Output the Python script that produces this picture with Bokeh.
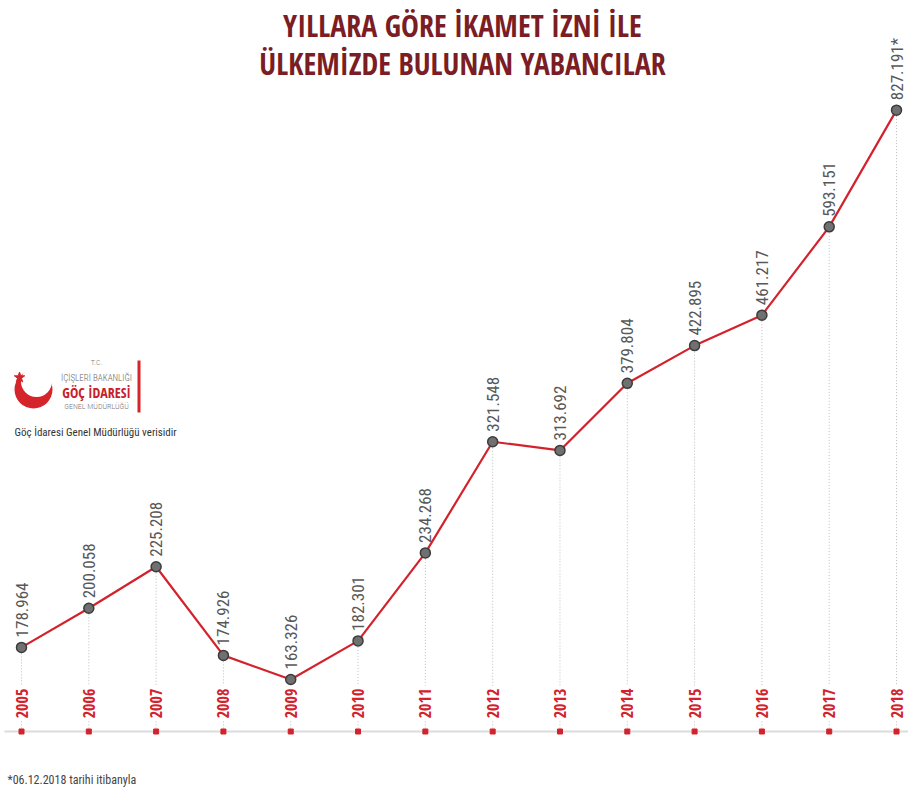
import math
from bokeh.plotting import figure
from bokeh.models import Range1d, Label
from bokeh.core.properties import value
from bokeh.embed import file_html
from bokeh.resources import INLINE

# ---- data ----
years = [2005, 2006, 2007, 2008, 2009, 2010, 2011, 2012, 2013, 2014, 2015, 2016, 2017, 2018]
residents = [178964, 200058, 225208, 174926, 163326, 182301, 234268, 321548,
             313692, 379804, 422895, 461217, 593151, 827191]
value_labels = ["178.964", "200.058", "225.208", "174.926", "163.326", "182.301", "234.268",
                "321.548", "313.692", "379.804", "422.895", "461.217", "593.151", "827.191*"]
year_labels = [str(y) for y in years]
title_lines = ["YILLARA GÖRE İKAMET İZNİ İLE", "ÜLKEMİZDE BULUNAN YABANCILAR"]
footnote = "*06.12.2018 tarihi itibanyla"
source_note = "Göç İdaresi Genel Müdürlüğü verisidir"

# ---- layout ----
W, H = 908, 797
X0, X1 = 2004.688, 2018.178
LTOP, LBOT = 6.0533, 5.0670

COND = "'Open Sans Condensed', 'Roboto Condensed', sans-serif"
REG = "'Roboto Condensed', sans-serif"
LIGHT = "'Roboto Condensed Light', 'Open Sans Condensed Light', 'Roboto Condensed', sans-serif"
RED = "#d3222c"
MAROON = "#7a1d24"


def px2x(px):
    return X0 + px / W * (X1 - X0)


def px2y(py):
    return 10 ** (LTOP - py / H * (LTOP - LBOT))


p = figure(width=W, height=H, output_backend="svg", toolbar_location=None,
           x_range=Range1d(X0, X1), y_range=Range1d(10 ** LBOT, 10 ** LTOP),
           y_axis_type="log", x_axis_location=None, y_axis_location=None,
           min_border=0, outline_line_color=None, background_fill_color="white",
           border_fill_color="white")
p.xgrid.visible = False
p.ygrid.visible = False

n = len(years)
y_lab_top = px2y(685)
y_lab_bot = px2y(721)
y_axis = px2y(731)

# dotted guides
p.segment(x0=years, x1=years, y0=residents, y1=[y_lab_top] * n,
          line_color="#bdbdbd", line_width=1, line_dash="1 2")
p.segment(x0=years, x1=years, y0=[y_lab_bot] * n, y1=[y_axis] * n,
          line_color="#bdbdbd", line_width=1, line_dash="1 2")

# baseline
p.segment(x0=[px2x(4)], x1=[X1], y0=[y_axis], y1=[y_axis], line_color="#dcdcdc", line_width=2)
p.scatter(x=years, y=[y_axis] * n, marker="square", size=5, color=RED)

# series
p.line(x=years, y=residents, line_color=RED, line_width=2.2)
p.scatter(x=years, y=residents, marker="circle", size=10, fill_color="#707070",
          line_color="#3c3c3c", line_width=1.5)

# value labels
p.text(x=years, y=residents, text=value_labels, angle=math.pi / 2,
       text_align="left", text_baseline="middle", y_offset=-10,
       text_font=value(REG), text_font_size="17px", text_color="#585858")

# year labels
p.text(x=years, y=[px2y(703)] * n, text=year_labels, angle=math.pi / 2,
       text_align="center", text_baseline="middle",
       text_font=value(COND), text_font_size="16px", text_font_style="bold",
       text_color=RED)

# title
for i, t in enumerate(title_lines):
    p.add_layout(Label(x=W / 2 + 8, y=H - (25 + i * 38), x_units="screen", y_units="screen",
                       text=t, text_align="center", text_baseline="middle",
                       text_font=COND, text_font_size="30px", text_font_style="bold",
                       text_color=MAROON))

# logo
p.circle(x=[px2x(33)], y=[px2y(389)], radius=19, radius_units="screen",
         fill_color="#d6242b", line_color=None)
p.circle(x=[px2x(36)], y=[px2y(381)], radius=15.5, radius_units="screen",
         fill_color="white", line_color=None)
p.scatter(x=[px2x(19)], y=[px2y(377)], marker="star", size=11, color="#d6242b")
logo_texts = [("T.C.", 362, "8px", "normal", "#777777", LIGHT),
              ("İÇİŞLERİ BAKANLIĞI", 377, "9px", "normal", "#666666", LIGHT),
              ("GÖÇ İDARESİ", 392, "14px", "bold", "#c8202a", COND),
              ("GENEL MÜDÜRLÜĞÜ", 406, "8px", "normal", "#777777", LIGHT)]
for t, yy, fs, st, col, fnt in logo_texts:
    p.add_layout(Label(x=96, y=H - yy, x_units="screen", y_units="screen", text=t,
                       text_align="center", text_baseline="middle", text_font=fnt,
                       text_font_size=fs, text_font_style=st, text_color=col))
p.segment(x0=[px2x(138.5)], x1=[px2x(138.5)], y0=[px2y(360)], y1=[px2y(412)],
          line_color="#d6242b", line_width=3)
p.add_layout(Label(x=14, y=H - 432, x_units="screen", y_units="screen", text=source_note,
                   text_align="left", text_baseline="middle", text_font=REG,
                   text_font_size="11px", text_color="#333333"))

# footnote
p.add_layout(Label(x=7, y=H - 779, x_units="screen", y_units="screen", text=footnote,
                   text_align="left", text_baseline="middle", text_font=REG,
                   text_font_size="12px", text_color="#444444"))

open("out.html", "w").write(file_html(p, INLINE))
